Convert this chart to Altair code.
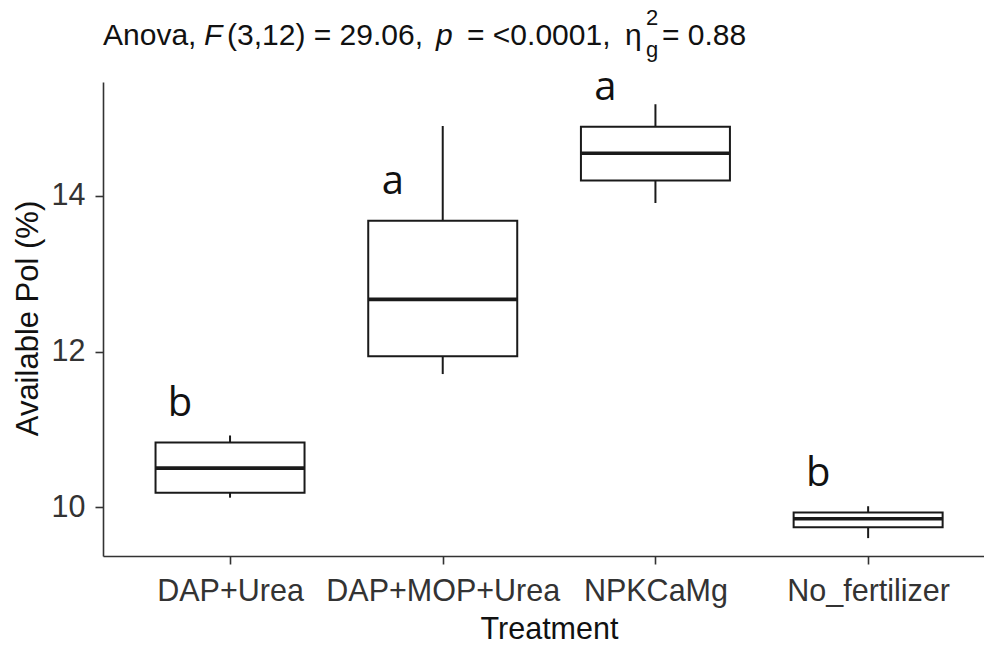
import altair as alt
import pandas as pd

# ---- data ----
treatments = ["DAP+Urea", "DAP+MOP+Urea", "NPKCaMg", "No_fertilizer"]
lower = [10.12, 11.71, 13.91, 9.60]
q1 = [10.185, 11.94, 14.20, 9.74]
median = [10.50, 12.67, 14.55, 9.85]
q3 = [10.83, 13.68, 14.89, 9.93]
upper = [10.92, 14.90, 15.18, 10.01]
letters = ["b", "a", "a", "b"]
letter_y = [11.17, 14.03, 15.24, 10.27]
y_ticks = [10, 12, 14]

df = pd.DataFrame({
    "Treatment": treatments,
    "lower": lower, "q1": q1, "median": median, "q3": q3, "upper": upper,
    "letter": letters, "letter_y": letter_y,
})

W, H = 881, 474
INK = "#1a1a1a"
AX = "#333333"
FONT = "Liberation Sans"

xscale = alt.Scale(type="point", domain=treatments, padding=0.571, align=0.523)
yscale = alt.Scale(domain=[9.37, 15.466], nice=False, zero=False)

xaxis = alt.Axis(
    title="Treatment", labelAngle=0, labelFont=FONT, labelFontSize=30.5,
    labelColor=AX, labelBaseline="alphabetic", labelPadding=36, labelLimit=500,
    labelOverlap=False, labelFlush=False,
    tickSize=8, tickWidth=1.6, tickColor=AX, domainColor=AX, domainWidth=1.6,
    titleFont=FONT, titleFontSize=30.5, titleFontWeight="normal", titleColor="#111",
    titleX=446, titleY=82, titleBaseline="alphabetic", titleAlign="center",
    grid=False,
)
yaxis = alt.Axis(
    title="Available Pol (%)", values=y_ticks, format="d", labelFont=FONT,
    labelFontSize=30.5, labelColor=AX, labelAlign="right", labelBaseline="middle",
    labelPadding=10,
    tickSize=8, tickWidth=1.6, tickColor=AX, domainColor=AX, domainWidth=1.6,
    titleFont=FONT, titleFontSize=31, titleFontWeight="normal", titleColor="#111",
    titleX=-66, titleY=236, titleAngle=270, titleBaseline="alphabetic",
    titleAlign="center", grid=False,
)

base = alt.Chart(df)
x = alt.X("Treatment:N", scale=xscale, axis=xaxis, sort=treatments)

whisk_hi = base.mark_rule(color=INK, strokeWidth=2).encode(
    x=x, y=alt.Y("q3:Q", scale=yscale, axis=yaxis), y2="upper:Q")
whisk_lo = base.mark_rule(color=INK, strokeWidth=2).encode(
    x=x, y=alt.Y("lower:Q", scale=yscale), y2="q1:Q")
box = base.mark_bar(size=149, fill="white", stroke=INK, strokeWidth=2).encode(
    x=x, y=alt.Y("q1:Q", scale=yscale), y2="q3:Q")
med = base.mark_rule(color=INK, strokeWidth=3.6, xOffset=-74.5, x2Offset=74.5).encode(
    x=x, x2=alt.X2("Treatment:N"), y=alt.Y("median:Q", scale=yscale))
lett = base.mark_text(font="Open Sans", fontSize=40, baseline="alphabetic",
                      align="center", dx=-50, color="#111").encode(
    x=x, y=alt.Y("letter_y:Q", scale=yscale), text="letter:N")

one = alt.InlineData(values=[{"k": 1}])


def seg(txt, px, py, size=30, style="normal"):
    return alt.Chart(one).mark_text(
        text=txt, font=FONT, fontSize=size, fontStyle=style, align="left",
        baseline="alphabetic", color="#111",
    ).encode(x=alt.value(px), y=alt.value(py))


title_parts = [
    seg("Anova,", 0, -37),
    seg("F", 101, -37, style="italic"),
    seg("(3,12) = 29.06,", 124, -37),
    seg("p", 333, -37, style="italic"),
    seg("= <0.0001,", 364, -37),
    seg("\u03b7", 522, -37),
    seg("2", 543, -57, size=22),
    seg("g", 543, -25, size=22),
    seg("= 0.88", 559, -37),
]

chart = alt.layer(box, whisk_hi, whisk_lo, med, lett, *title_parts).properties(
    width=W, height=H,
    autosize=alt.AutoSizeParams(type="none"),
    padding={"left": 103, "top": 82, "right": 0, "bottom": 88},
    background="white",
).configure_view(stroke=None)

chart.save("out.html", embed_options={"renderer": "svg", "actions": False})
